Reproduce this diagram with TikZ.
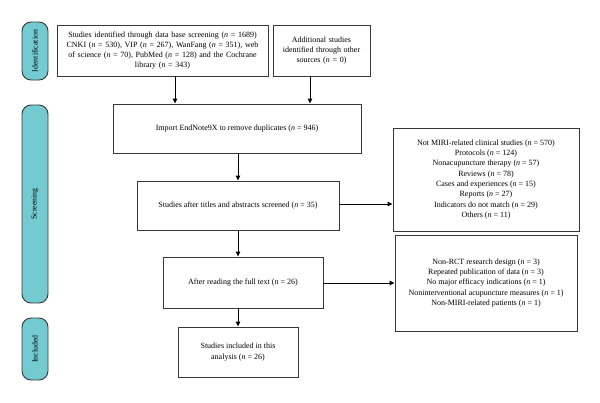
\documentclass[tikz,border=0pt]{standalone}
\usepackage{fontspec}
\setmainfont{Liberation Serif}
\usetikzlibrary{arrows.meta}
\definecolor{pill}{RGB}{116,202,209}
\definecolor{edge}{RGB}{55,55,55}
\begin{document}
\begin{tikzpicture}[x=1pt,y=-1pt,
  box/.style={draw=edge,line width=0.9pt,fill=white,inner sep=2pt,align=center,font=\fontsize{8}{10.3}\selectfont},
  stage/.style={draw=edge,line width=0.9pt,fill=pill,rounded corners=9pt,minimum width=26pt,inner sep=0pt},
  stagetext/.style={rotate=90,font=\fontsize{7.8}{8}\selectfont},
  arr/.style={-{Triangle[length=5pt,width=4.5pt]},draw=black,line width=0.9pt}]
\useasboundingbox (0,0) rectangle (600,402);
% stage pills
\node[stage,minimum height=58pt] (p1) at (35,51) {};
\node[stagetext] (t1) at (p1.center) {Identification};
\node[stage,minimum height=198pt] (p2) at (35,204) {};
\node[stagetext] (t2) at (p2.center) {Screening};
\node[stage,minimum height=62pt] (p3) at (35,349) {};
\node[stagetext] (t3) at (p3.center) {Included};
% boxes
\node[box,minimum width=211pt,minimum height=51pt,text width=207pt] (A) at (162.5,50.5)
 {Studies identified through data base screening (\emph{n} = 1689)\\CNKI (\emph{n} = 530), VIP (\emph{n} = 267), WanFang (\emph{n} = 351), web\\of science (\emph{n} = 70), PubMed (\emph{n} = 128) and the Cochrane\\library (\emph{n} = 343)};
\node[box,minimum width=97pt,minimum height=51pt,text width=93pt] (B) at (321.5,50.5)
 {Additional studies\\identified through other\\sources (\emph{n} = 0)};
\node[box,minimum width=248pt,minimum height=49pt] (C) at (237,128.5)
 {Import EndNote9X to remove duplicates (\emph{n} = 946)};
\node[box,minimum width=202pt,minimum height=49pt] (D) at (238,205.5)
 {Studies after titles and abstracts screened (\emph{n} = 35)};
\node[box,minimum width=186pt,minimum height=103pt] (E) at (486,179.5)
 {Not MIRI-related clinical studies (\emph{n} = 570)\\Protocols (\emph{n} = 124)\\Nonacupuncture therapy (\emph{n} = 57)\\Reviews (\emph{n} = 78)\\Cases and experiences (\emph{n} = 15)\\Reports (\emph{n} = 27)\\Indicators do not match (\emph{n} = 29)\\Others (\emph{n} = 11)};
\node[box,minimum width=182pt,minimum height=96pt] (F) at (486,283)
 {Non-RCT research design (\emph{n} = 3)\\Repeated publication of data (\emph{n} = 3)\\No major efficacy indications (\emph{n} = 1)\\Noninterventional acupuncture measures (\emph{n} = 1)\\Non-MIRI-related patients (\emph{n} = 1)};
\node[box,minimum width=160pt,minimum height=51pt] (G) at (243,282.5)
 {After reading the full text (\emph{n} = 26)};
\node[box,minimum width=120pt,minimum height=50pt] (H) at (238,352)
 {Studies included in this\\analysis (\emph{n} = 26)};
% arrows
\coordinate (xa) at (175,0);
\coordinate (xb) at (310,0);
\coordinate (xm) at (238,0);
\coordinate (yd) at (0,204);
\coordinate (yg) at (0,283);
\draw[arr] (A.south -| xa) -- (C.north -| xa);
\draw[arr] (B.south -| xb) -- (C.north -| xb);
\draw[arr] (C.south -| xm) -- (D.north -| xm);
\draw[arr] (D.east |- yd) -- (E.west |- yd);
\draw[arr] (D.south -| xm) -- (G.north -| xm);
\draw[arr] (G.east |- yg) -- (F.west |- yg);
\draw[arr] (G.south -| xm) -- (H.north -| xm);
\end{tikzpicture}
\end{document}
